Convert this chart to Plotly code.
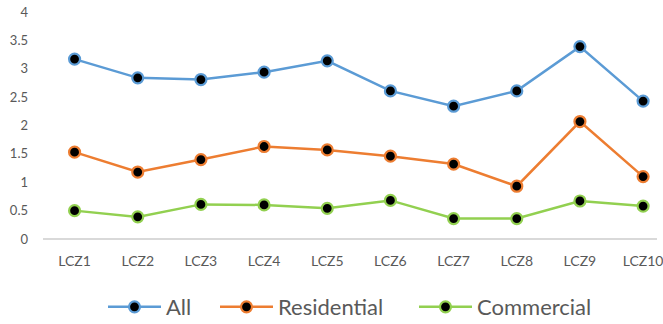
import plotly.graph_objects as go

categories = ["LCZ1", "LCZ2", "LCZ3", "LCZ4", "LCZ5", "LCZ6", "LCZ7", "LCZ8", "LCZ9", "LCZ10"]
all_vals = [3.17, 2.84, 2.81, 2.94, 3.14, 2.61, 2.34, 2.61, 3.39, 2.43]
residential = [1.53, 1.18, 1.40, 1.63, 1.57, 1.46, 1.32, 0.93, 2.07, 1.10]
commercial = [0.50, 0.39, 0.61, 0.60, 0.54, 0.68, 0.36, 0.36, 0.67, 0.58]
y_ticks = [0, 0.5, 1, 1.5, 2, 2.5, 3, 3.5, 4]
y_tick_text = ["0", "0.5", "1", "1.5", "2", "2.5", "3", "3.5", "4"]

series = [
    ("All", all_vals, "#5B9BD5", "legend", 103),
    ("Residential", residential, "#ED7D31", "legend2", 215),
    ("Commercial", commercial, "#92D050", "legend3", 414),
]

fig = go.Figure()
for name, vals, color, leg, _ in series:
    fig.add_trace(go.Scatter(
        x=list(range(len(categories))), y=vals, name=name, mode="lines+markers",
        line=dict(color=color, width=2.5), legend=leg,
        marker=dict(size=11, color="black", line=dict(color=color, width=2.2)),
    ))

font_family = "Lato, 'Open Sans', sans-serif"
legend_common = dict(orientation="h", xref="container", yref="container", xanchor="left",
                     y=1 - 307 / 324, yanchor="middle", bgcolor="rgba(0,0,0,0)",
                     font=dict(size=22, color="#595959"), itemwidth=53)
legends = {}
for name, vals, color, leg, xpx in series:
    legends[leg] = dict(legend_common, x=xpx / 663)

fig.update_layout(
    width=663, height=324,
    margin=dict(l=43, r=0, t=12, b=84.5),
    paper_bgcolor="white", plot_bgcolor="white",
    font=dict(family=font_family, color="#595959"),
    showlegend=True,
    **legends,
    xaxis=dict(
        tickmode="array", tickvals=list(range(len(categories))), ticktext=categories,
        range=[-0.5, 9.22], showgrid=False, zeroline=False,
        showline=False, ticks="", tickfont=dict(size=14, color="#595959"),
        ticklabelstandoff=12, ticklabeloverflow="allow",
    ),
    yaxis=dict(
        range=[0, 4], tickmode="array", tickvals=y_ticks, ticktext=y_tick_text,
        showgrid=False, zeroline=True, zerolinecolor="#D9D9D9", zerolinewidth=1.5,
        showline=False, ticks="", tickfont=dict(size=13, color="#595959"),
        ticklabelstandoff=14,
    ),
)

fig.write_html("out.html")
